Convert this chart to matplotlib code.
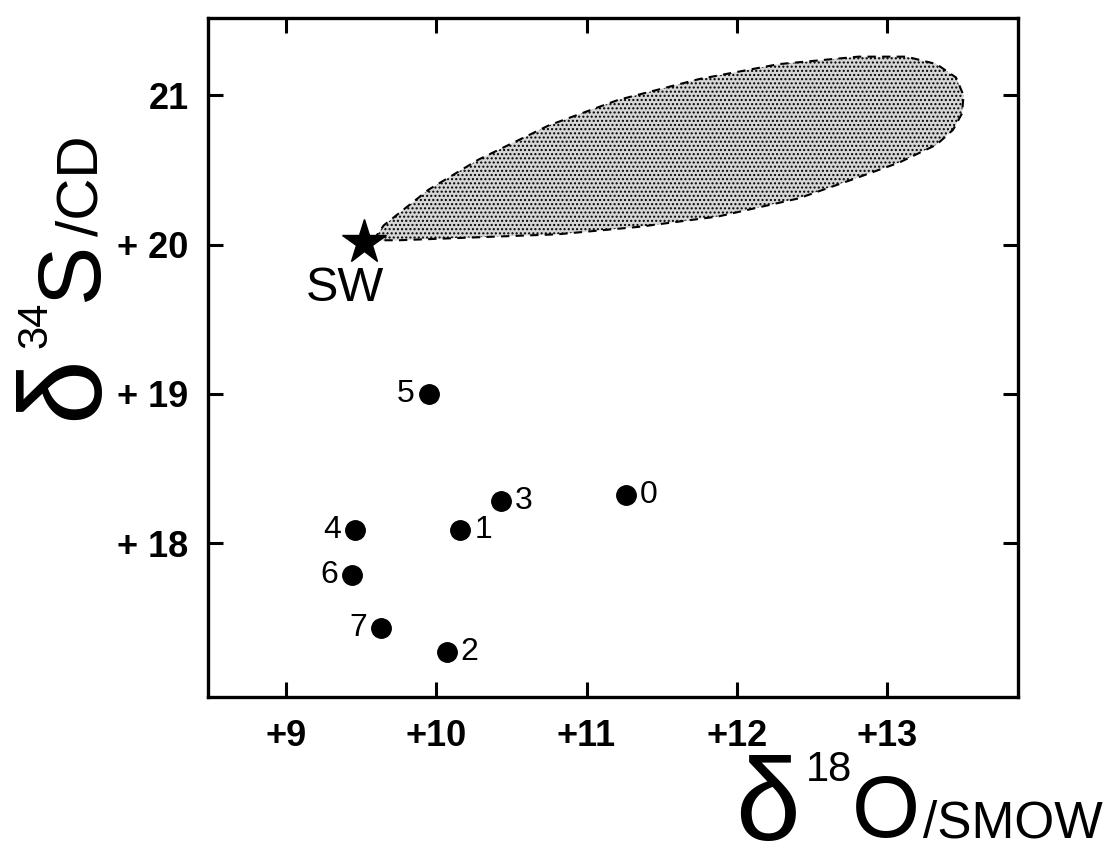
import matplotlib
matplotlib.use("Agg")
import matplotlib.pyplot as plt
from matplotlib.patches import Polygon

# sample points: delta18O (SMOW) vs delta34S (CD)
labels = ["0", "1", "2", "3", "4", "5", "6", "7"]
d18o = [11.26, 10.16, 10.07, 10.43, 9.46, 9.95, 9.44, 9.63]
d34s = [18.32, 18.09, 17.27, 18.28, 18.09, 19.00, 17.79, 17.43]
label_side = ["r", "r", "r", "r", "l", "l", "l", "l"]

# seawater
sw_x, sw_y = 9.52, 20.02

# outline of the shaded field (starts at SW, upper edge, then lower edge back)
field_x = [9.58, 9.65, 9.95, 10.28, 10.75, 11.21, 11.75, 12.28, 12.81, 13.13,
           13.33, 13.46, 13.51, 13.50, 13.44, 13.33, 13.08, 12.75, 12.41,
           11.88, 11.35, 10.81, 10.28, 9.75]
field_y = [20.03, 20.13, 20.37, 20.57, 20.80, 20.97, 21.11, 21.21, 21.26, 21.26,
           21.21, 21.12, 21.00, 20.88, 20.77, 20.67, 20.55, 20.43, 20.31,
           20.19, 20.12, 20.07, 20.05, 20.03]

xticks = [9, 10, 11, 12, 13]
xticklabels = ["+9", "+10", "+11", "+12", "+13"]
yticks = [18, 19, 20, 21]
yticklabels = ["+ 18", "+ 19", "+ 20", "21"]

plt.rcParams['font.family'] = ['Liberation Sans', 'DejaVu Sans']

fig = plt.figure(figsize=(11.09, 8.5), dpi=100)
ax = fig.add_axes([0.1876, 0.180, 0.730, 0.799])
ax.set_xlim(8.48, 13.87)
ax.set_ylim(16.97, 21.52)

poly = Polygon(list(zip(field_x, field_y)), closed=True, facecolor="#d6d6d6",
               edgecolor="black", linestyle=(0, (4, 3)), linewidth=1.5,
               hatch="....", zorder=1)
ax.add_patch(poly)

ax.plot(d18o, d34s, "o", color="black", markersize=14, zorder=3)
for lab, x, y, side in zip(labels, d18o, d34s, label_side):
    dx = 10 if side == "r" else -10
    ax.annotate(lab, (x, y), xytext=(dx, 0), textcoords="offset points",
                ha="left" if side == "r" else "right", va="center", fontsize=23)

ax.plot([sw_x], [sw_y], marker="*", color="black", markersize=33, zorder=4)
ax.text(9.39, 19.86, "SW", ha="center", va="top", fontsize=35)

ax.set_xticks(xticks)
ax.set_xticklabels(xticklabels, fontsize=26, fontweight="bold")
ax.set_yticks(yticks)
ax.set_yticklabels(yticklabels, fontsize=26, fontweight="bold")
ax.tick_params(direction="in", length=11, width=2.2, top=True, right=True)
ax.tick_params(axis="x", pad=16)
ax.tick_params(axis="y", pad=14)
for sp in ax.spines.values():
    sp.set_linewidth(2.4)

# x axis label: delta 18 O / SMOW
fig.text(0.663, 0.012, "δ", fontsize=84, ha="left", va="baseline")
fig.text(0.727, 0.081, "18", fontsize=30, ha="left", va="baseline")
fig.text(0.768, 0.015, "O", fontsize=63, ha="left", va="baseline")
fig.text(0.832, 0.015, "/SMOW", fontsize=37, ha="left", va="baseline")

# y axis label: delta 34 S / CD
kw = dict(rotation=90, rotation_mode="anchor", ha="left", va="baseline")
fig.text(0.0875, 0.506, "δ", fontsize=84, **kw)
fig.text(0.042, 0.590, "34", fontsize=30, **kw)
fig.text(0.0875, 0.646, "S", fontsize=64, **kw)
fig.text(0.0875, 0.722, "/CD", fontsize=42, **kw)

fig.savefig("out.png", dpi=100)
